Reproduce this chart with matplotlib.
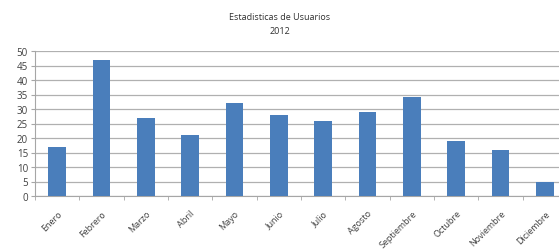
import numpy as np
import matplotlib
matplotlib.use("Agg")
import matplotlib.pyplot as plt

# chart data
months = ["Enero", "Febrero", "Marzo", "Abril", "Mayo", "Junio", "Julio",
          "Agosto", "Septiembre", "Octubre", "Noviembre", "Diciembre"]
users = [17, 47, 27, 21, 32, 28, 26, 29, 34, 19, 16, 5]
y_ticks = [0, 5, 10, 15, 20, 25, 30, 35, 40, 45, 50]

plt.rcParams['font.family'] = ['Open Sans', 'DejaVu Sans']

fig = plt.figure(figsize=(5.59, 2.51), dpi=100)
# plot area runs past the right edge, like the cropped original
ax = fig.add_axes([35 / 559, 54 / 251, 532 / 559, 145 / 251])

x = np.arange(len(months))
ax.bar(x, users, width=0.4, color="#4a7ebb", zorder=3)

ax.set_xlim(-0.5, len(months) - 0.5)
ax.set_ylim(0, 50)
ax.set_yticks(y_ticks)
ax.yaxis.grid(True, color="#b0b0b0", linewidth=0.9, zorder=0)

ax.set_xticks(x)
ax.set_xticklabels(months, rotation=45, ha="right", rotation_mode="anchor",
                   fontsize=6.5, color="#404040")
ax.tick_params(axis="x", length=0, pad=9)
# small boundary ticks like Excel
ax.set_xticks(np.arange(-0.5, len(months)), minor=True)
ax.tick_params(axis="x", which="minor", length=3, color="#a6a6a6")
ax.tick_params(axis="y", labelsize=7, colors="#404040", length=3, pad=2)
ax.tick_params(axis="y", color="#a6a6a6")

for s in ["top", "right"]:
    ax.spines[s].set_visible(False)
ax.spines["left"].set_color("#a6a6a6")
ax.spines["bottom"].set_color("#a6a6a6")

fig.text(0.5, 0.902, "Estadisticas de Usuarios\n2012", ha="center", va="center",
         fontsize=6.5, color="#303030", linespacing=1.7)

fig.savefig("out.png", dpi=100)
